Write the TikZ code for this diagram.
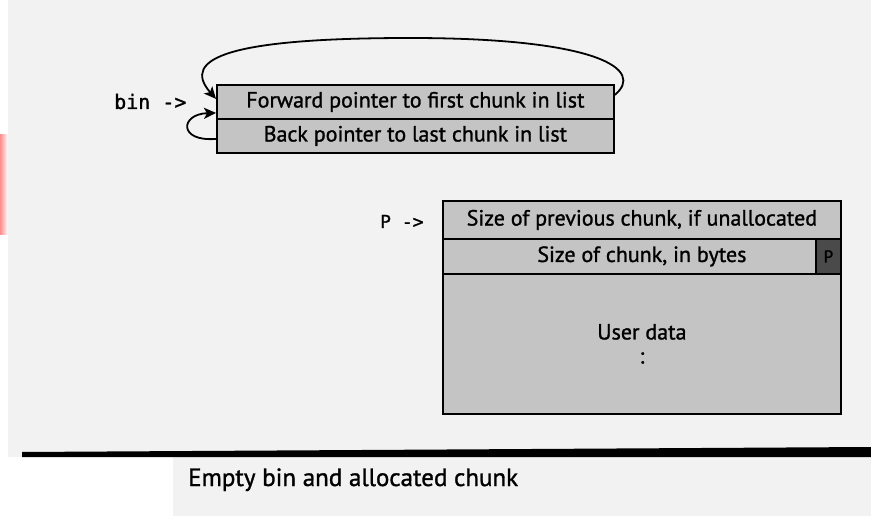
\documentclass[tikz,border=0pt]{standalone}
\usepackage{fontspec}
\setmainfont{PT Sans}[FakeBold=1.2]
\setmonofont{DejaVu Sans Mono}[FakeBold=0.8]
\newfontfamily\boxfont{PT Sans}[FakeBold=1.2]
\newfontfamily\ptrfont{DejaVu Sans Mono}[FakeBold=1.2]
\usetikzlibrary{arrows.meta}

\definecolor{paper}{HTML}{F2F2F2}
\definecolor{cellgray}{HTML}{C4C4C4}
\definecolor{flaggray}{HTML}{4A4A4A}

\begin{document}
\begin{tikzpicture}[x=1pt,y=-1pt,
  cell/.style={draw=black, line width=1.8pt, fill=cellgray, inner sep=0pt,
               anchor=north west, font=\boxfont\fontsize{22}{26}\selectfont},
  flag/.style={draw=black, line width=1.8pt, fill=flaggray, inner sep=0pt,
               anchor=north west, font=\boxfont\fontsize{17}{19}\selectfont},
  ptrlabel/.style={inner sep=0pt, anchor=base west, font=\ptrfont\fontsize{20}{24}\selectfont},
  link/.style={line width=1.8pt, -{Stealth[length=12pt,width=11pt,inset=3pt]}},
]
% page
\useasboundingbox (0,0) rectangle (871,516);
\fill[white] (0,0) rectangle (871,516);
\fill[paper] (8,0) rectangle (871,457);
\fill[paper] (173,457) rectangle (871,516);
\shade[left color=red!45, right color=white] (0,135) rectangle (8,235);

% the empty bin
\node[cell, minimum width=397pt, minimum height=34pt] (fwd) at (216,84)
  {Forward pointer to first chunk in list};
\node[cell, minimum width=397pt, minimum height=34pt] (back) at (216,118)
  {Back pointer to last chunk in list};
\node[ptrlabel] (bin) at (114,109) {bin ->};

% both pointers lead back to the bin itself
\draw[link] ([yshift=7pt]fwd.east)
  .. controls (645,70) and (600,38) .. (410,38)
  .. controls (230,38) and (180,58) .. ([yshift=3pt]fwd.west);
\draw[link] ([yshift=-3pt]back.west)
  .. controls (178,142) and (180,114) .. ([yshift=-11pt]fwd.west);

% the allocated chunk
\node[cell, minimum width=398pt, minimum height=38pt] (prev) at (442,200)
  {Size of previous chunk, if unallocated};
\node[cell, minimum width=398pt, minimum height=35pt] (size) at (442,238)
  {Size of chunk, in bytes};
\node[flag, minimum width=25pt, minimum height=35pt] (pbit) at (815,238) {P};
\node[cell, minimum width=398pt, minimum height=140pt, align=center] (user) at (442,273)
  {User data\\[-2pt]:};
\node[ptrlabel, font=\ptrfont\fontsize{18}{22}\selectfont] (plbl) at (380,228) {P ->};

% rule and caption
\fill[black] (22,452) -- (871,447) -- (871,457) -- (22,457) -- cycle;
\node[inner sep=0pt, anchor=base west, font=\boxfont\fontsize{25}{29}\selectfont] (caption)
  at (188,486) {Empty bin and allocated chunk};
\end{tikzpicture}
\end{document}
